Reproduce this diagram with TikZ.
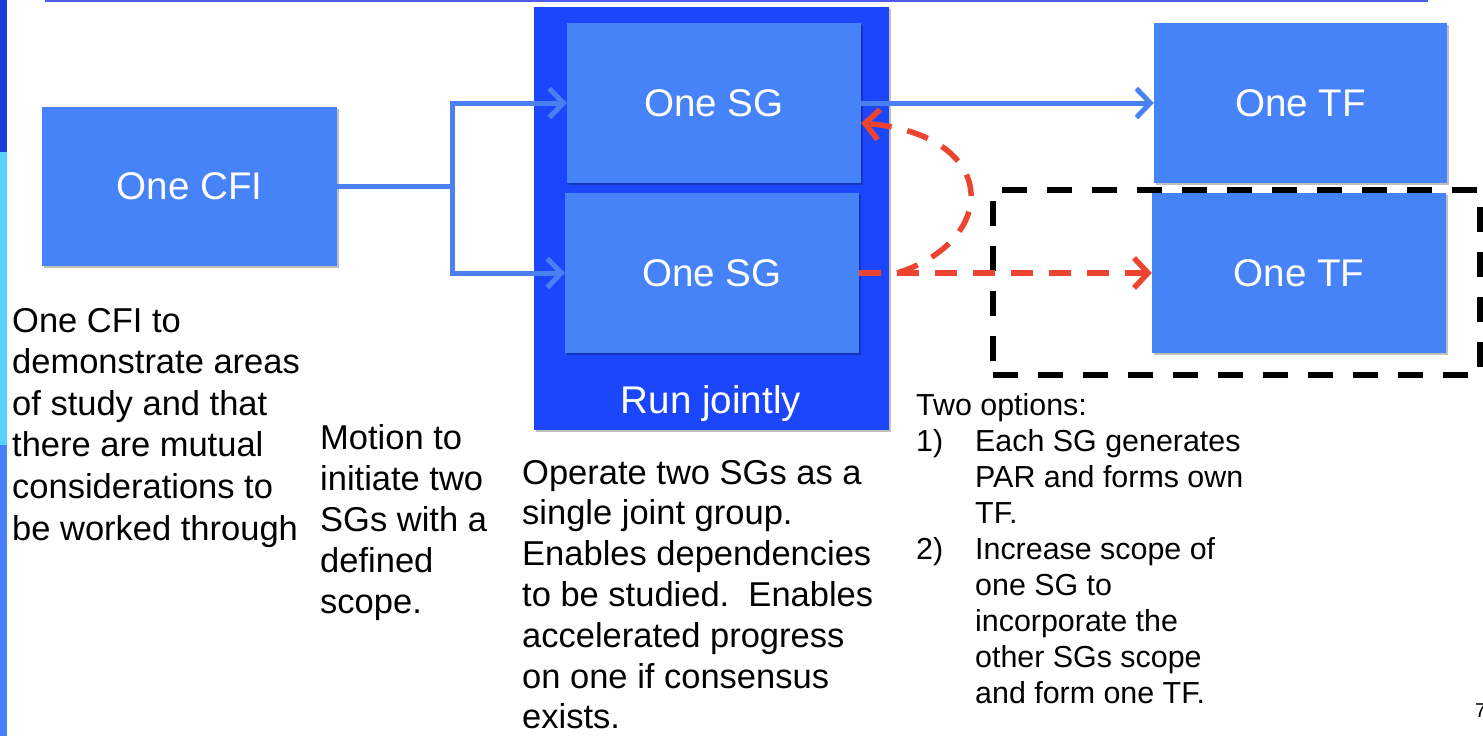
\documentclass[tikz,border=0pt]{standalone}
\usepackage{fontspec}
\setmainfont{Liberation Sans}
\usetikzlibrary{arrows.meta,shadows}
\definecolor{boxblue}{RGB}{70,130,248}
\definecolor{jointblue}{RGB}{28,70,251}
\definecolor{lineblue}{RGB}{74,128,240}
\definecolor{redd}{RGB}{236,68,48}
\definecolor{barDark}{RGB}{26,60,216}
\definecolor{barCyan}{RGB}{88,212,250}
\definecolor{barMid}{RGB}{74,126,248}
\definecolor{topline}{RGB}{80,92,240}
\begin{document}
\begin{tikzpicture}[x=1pt,y=-1pt,
  shadowed/.style={drop shadow={shadow xshift=1.5pt,shadow yshift=-2pt,opacity=0.25,fill=black}},
  bluebox/.style={shadowed,fill=boxblue,minimum width=294pt,minimum height=160pt,inner sep=0pt,
    text=white,font=\fontsize{38.6}{46}\selectfont},
  jointbox/.style={shadowed,fill=jointblue,minimum width=355pt,minimum height=423pt,inner sep=0pt},
  dashbox/.style={draw=black,line width=6pt,dash pattern=on 25pt off 20pt,minimum width=487pt,minimum height=185pt,inner sep=0pt},
  bconn/.style={draw=lineblue,line width=5pt},
  barb/.style={-{Straight Barb[length=14pt,width=29pt]}},
  rconn/.style={draw=redd,line width=5.5pt,dash pattern=on 22pt off 16pt},
  txt/.style={inner sep=0pt,align=left,anchor=north west,font=\fontsize{34.5}{41.6}\selectfont},
  txtsmall/.style={inner sep=0pt,align=left,anchor=north west,font=\fontsize{30.4}{36}\selectfont}
]
\useasboundingbox (0,0) rectangle (1483,736);
\fill[white] (0,0) rectangle (1483,736);
% left bars and top rule
\fill[barDark] (0,0) rectangle (7,152);
\fill[barCyan] (0,152) rectangle (7,445);
\fill[barMid] (0,445) rectangle (7,736);
\draw[topline,line width=2pt] (45,1) -- (1428,1);
% boxes
\node[bluebox,minimum width=295pt,minimum height=159pt] (cfi) at (189.5,186.5) {One CFI};
\node[jointbox] (joint) at (711.5,218.5) {};
\node[bluebox] (sg1) at (714,103) {One SG};
\node[bluebox] (sg2) at (712,273) {One SG};
\node[text=white,font=\fontsize{38.6}{46}\selectfont,inner sep=0pt,anchor=base] (rj) at (711,413) {Run jointly};
\node[dashbox] (opt) at (1236.5,282.5) {};
\node[bluebox,minimum width=293pt] (tf1) at (1300.5,103) {One TF};
\node[bluebox] (tf2) at (1299,273) {One TF};
% blue connectors
\coordinate (fork) at ([xshift=115pt]cfi.east);
\draw[bconn] (cfi.east) -- (fork);
\draw[bconn,barb] (fork) |- (sg1.west);
\draw[bconn,barb] (fork) |- (sg2.west);
\draw[bconn,barb] (sg1.east) -- (tf1.west);
% red dashed connectors
\coordinate (split) at ([xshift=38pt]sg2.east);
\coordinate (sg1in) at ([yshift=-20pt]sg1.east);
\draw[rconn,-{Straight Barb[length=14pt,width=30pt]}] (sg2.east) -- (tf2.west);
\draw[rconn,-{Straight Barb[length=14pt,width=30pt]}] (split) .. controls +(103,-33) and +(139,12) .. (sg1in);
% texts
\node[txt] (t1) at (12,307.8) {One CFI to\\demonstrate areas\\of study and that\\there are mutual\\considerations to\\be worked through};
\node[txt,font=\fontsize{34.5}{41.2}\selectfont] (t2) at (320,423.8) {Motion to\\initiate two\\SGs with a\\defined\\scope.};
\node[txt,font=\fontsize{34.5}{40.8}\selectfont] (t3) at (522,459.8) {Operate two SGs as a\\single joint group.\\Enables dependencies\\to be studied.\ \ Enables\\accelerated progress\\on one if consensus\\exists.};
\node[txtsmall] (t4) at (916,392.8) {Two options:\\
\makebox[59pt][l]{1)}Each SG generates\\
\hspace*{59pt}PAR and forms own\\
\hspace*{59pt}TF.\\
\makebox[59pt][l]{2)}Increase scope of\\
\hspace*{59pt}one SG to\\
\hspace*{59pt}incorporate the\\
\hspace*{59pt}other SGs scope\\
\hspace*{59pt}and form one TF.};
\node[inner sep=0pt,anchor=base west,font=\fontsize{20}{24}\selectfont] (pg) at (1475,717) {7};
\end{tikzpicture}
\end{document}
